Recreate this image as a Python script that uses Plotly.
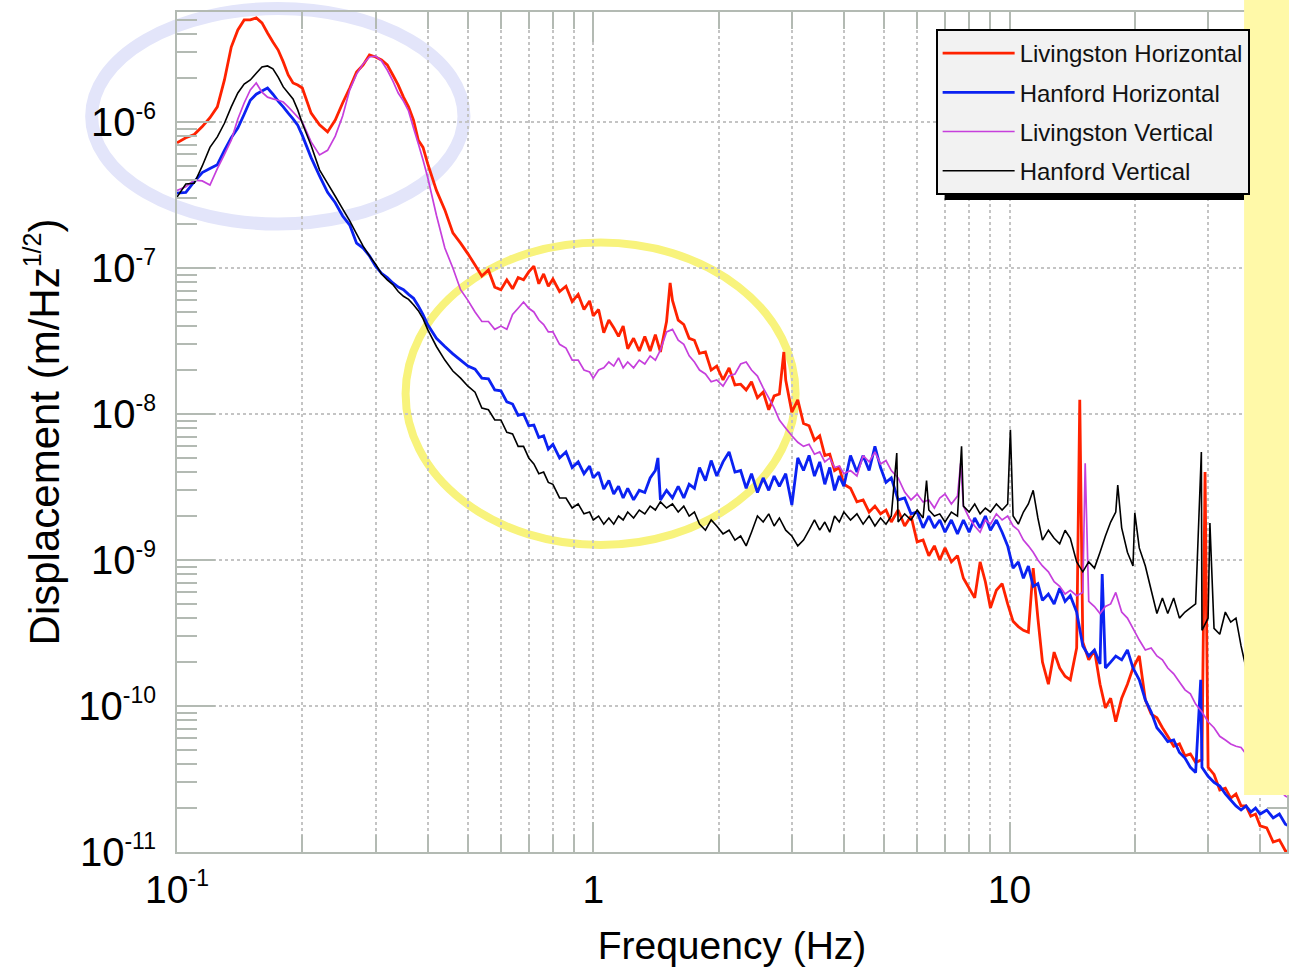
import plotly.graph_objects as go

# ---------------- data ----------------
F_SMOOTH = [0.100, 0.105, 0.110, 0.115, 0.120, 0.125, 0.130, 0.135, 0.140, 0.145,
            0.150, 0.155, 0.160, 0.165, 0.170, 0.175, 0.180, 0.185, 0.190, 0.195,
            0.200, 0.21, 0.22, 0.23, 0.24, 0.25, 0.26, 0.27, 0.28, 0.29,
            0.30, 0.31, 0.32, 0.33, 0.34, 0.35, 0.36, 0.37, 0.38, 0.39,
            0.40, 0.42, 0.44, 0.46, 0.48]

F_NOISY = [0.50, 0.52, 0.54, 0.56, 0.58, 0.60, 0.62, 0.64, 0.66, 0.68,
           0.70, 0.72, 0.74, 0.76, 0.78, 0.80, 0.83, 0.86, 0.89, 0.92,
           0.95, 0.98, 1.0, 1.03, 1.06, 1.09, 1.12, 1.15, 1.18, 1.21,
           1.25, 1.29, 1.33, 1.37, 1.41, 1.45, 1.5, 1.55, 1.6, 1.65,
           1.7, 1.75, 1.8, 1.86, 1.92, 1.98, 2.05, 2.12, 2.19, 2.26,
           2.33, 2.4, 2.48, 2.56, 2.64, 2.72, 2.8, 2.9, 3.0, 3.1,
           3.2, 3.3, 3.4, 3.5, 3.6, 3.7, 3.8, 3.9, 4.0, 4.15,
           4.3, 4.45, 4.6, 4.75, 4.9, 5.05, 5.2, 5.4, 5.6, 5.8,
           6.0, 6.2, 6.4, 6.6, 6.8, 7.0, 7.25, 7.5, 7.75, 8.0,
           8.25, 8.5, 8.75, 9.0, 9.3, 9.6, 9.9, 10.2, 10.5, 10.8,
           11.1, 11.4, 11.7, 12.0, 12.4, 12.8, 13.2, 13.6, 14.0, 14.5,
           15.0, 15.5, 16.0, 16.5, 17.0, 17.5, 18.0, 18.6, 19.2, 19.8,
           20.5, 21.2, 21.9, 22.6, 23.3, 24.0, 24.8, 25.6, 26.4, 27.2,
           28.0, 29.0, 30.0, 31.0, 32.0, 33.0, 34.0, 35.0, 36.0, 37.0,
           38.0, 39.0, 40.0, 41.5, 43.0, 44.5, 46.0, 47.0]

# Livingston Horizontal
LH_SMOOTH = [7.2e-7, 7.8e-7, 8.2e-7, 9.3e-7, 1.07e-6, 1.27e-6, 1.94e-6, 3.26e-6, 4.27e-6, 5.0e-6,
             5.0e-6, 5.16e-6, 4.77e-6, 4.07e-6, 3.53e-6, 3.11e-6, 2.58e-6, 2.10e-6, 1.85e-6, 1.79e-6,
             1.71e-6, 1.15e-6, 9.55e-7, 8.55e-7, 1.03e-6, 1.35e-6, 1.71e-6, 2.2e-6, 2.46e-6, 2.88e-6,
             2.79e-6, 2.66e-6, 2.46e-6, 2.10e-6, 1.79e-6, 1.48e-6, 1.27e-6, 1.03e-6, 7.5e-7, 6.7e-7,
             5.2e-7, 3.4e-7, 2.5e-7, 1.74e-7, 1.48e-7]
LH_NOISY = [1.25e-7, 1.05e-7, 8.8e-8, 9.7e-8, 7.4e-8, 7.1e-8, 8.3e-8, 7.2e-8, 8.6e-8, 8.3e-8,
            9.4e-8, 1.03e-7, 7.8e-8, 9.1e-8, 7.5e-8, 8.4e-8, 6.9e-8, 7.5e-8, 5.9e-8, 6.6e-8,
            5.2e-8, 5.95e-8, 4.7e-8, 5.2e-8, 3.6e-8, 4.4e-8, 3.9e-8, 3.4e-8, 4.0e-8, 2.8e-8,
            3.3e-8, 2.7e-8, 3.4e-8, 2.7e-8, 3.5e-8, 2.66e-8, 4.3e-8, 6.0e-8, 4.4e-8, 4.1e-8,
            3.3e-8, 3.2e-8, 2.6e-8, 2.66e-8, 2.0e-8, 2.13e-8, 1.71e-8, 2.07e-8, 1.58e-8, 1.6e-8,
            1.46e-8, 1.66e-8, 1.29e-8, 1.41e-8, 1.07e-8, 1.33e-8, 1.37e-8, 1.71e-8, 1.03e-8, 1.25e-8,
            8.6e-9, 8.3e-9, 6.6e-9, 7.1e-9, 5.2e-9, 5.3e-9, 4.1e-9, 4.3e-9, 3.3e-9, 3.1e-9,
            2.5e-9, 2.58e-9, 2.13e-9, 2.34e-9, 2.07e-9, 2.2e-9, 1.82e-9, 2.2e-9, 1.71e-9, 2.0e-9,
            1.33e-9, 1.37e-9, 1.07e-9, 1.25e-9, 1.0e-9, 1.21e-9, 9.7e-10, 1.07e-9, 7.5e-10, 6.4e-10,
            5.5e-10, 9.7e-10, 7.1e-10, 4.7e-10, 6.2e-10, 6.9e-10, 5.0e-10, 3.8e-10, 3.5e-10, 3.3e-10,
            3.2e-10, 8.8e-10, 4.0e-10, 2.0e-10, 1.41e-10, 2.34e-10, 1.82e-10, 1.6e-10, 1.51e-10, 2.5e-10,
            2.74e-10, 2.07e-10, 2.42e-10, 1.41e-10, 9.7e-11, 1.13e-10, 7.8e-11, 1.13e-10, 1.41e-10, 1.82e-10,
            2.2e-10, 1.1e-10, 8.8e-11, 8.3e-11, 7.1e-11, 6.2e-11, 5.3e-11, 5.5e-11, 4.55e-11, 4.7e-11,
            4.1e-11, 4.3e-11, 3.8e-11, 3.4e-11, 2.66e-11, 2.74e-11, 2.34e-11, 2.5e-11, 2.07e-11, 2.07e-11,
            1.76e-11, 1.82e-11, 1.51e-11, 1.46e-11, 1.17e-11, 1.21e-11, 1.02e-11, 1.0e-11]
LH_SPIKE_F = [1.53, 2.87, 14.75, 29.5]
LH_SPIKE_V = [7.9e-8, 2.66e-8, 1.25e-8, 4.0e-9]

# Hanford Horizontal
HH_SMOOTH = [3.26e-7, 3.3e-7, 3.9e-7, 4.5e-7, 4.8e-7, 5.1e-7, 6.4e-7, 7.8e-7, 9.1e-7, 1.13e-6,
             1.41e-6, 1.55e-6, 1.63e-6, 1.71e-6, 1.55e-6, 1.39e-6, 1.27e-6, 1.15e-6, 1.05e-6, 9.5e-7,
             8.1e-7, 5.7e-7, 4.27e-7, 3.3e-7, 2.8e-7, 2.27e-7, 1.97e-7, 1.48e-7, 1.37e-7, 1.21e-7,
             1.03e-7, 9.2e-8, 8.6e-8, 7.9e-8, 7.4e-8, 7.1e-8, 6.6e-8, 6.2e-8, 5.5e-8, 4.8e-8,
             4.1e-8, 3.3e-8, 2.9e-8, 2.58e-8, 2.34e-8]
HH_NOISY = [2.13e-8, 2.03e-8, 1.76e-8, 1.74e-8, 1.46e-8, 1.44e-8, 1.21e-8, 1.17e-8, 9.8e-9, 1.0e-8,
            8.3e-9, 8.4e-9, 6.9e-9, 7.1e-9, 5.75e-9, 6.2e-9, 5.0e-9, 5.5e-9, 4.3e-9, 4.7e-9,
            3.9e-9, 4.4e-9, 3.65e-9, 4.0e-9, 3.06e-9, 3.5e-9, 2.83e-9, 3.2e-9, 2.66e-9, 3.1e-9,
            2.58e-9, 3.0e-9, 2.9e-9, 3.65e-9, 4.1e-9, 2.58e-9, 3.0e-9, 2.66e-9, 3.2e-9, 2.66e-9,
            3.3e-9, 3.1e-9, 4.3e-9, 3.5e-9, 4.8e-9, 3.76e-9, 4.7e-9, 5.5e-9, 4.0e-9, 4.1e-9,
            3.1e-9, 3.9e-9, 2.9e-9, 3.65e-9, 3.0e-9, 3.76e-9, 3.2e-9, 3.9e-9, 2.38e-9, 5.0e-9,
            4.1e-9, 5.2e-9, 3.76e-9, 4.7e-9, 3.3e-9, 4.3e-9, 3.0e-9, 3.76e-9, 3.2e-9, 5.2e-9,
            4.0e-9, 5.2e-9, 4.1e-9, 6.0e-9, 4.3e-9, 3.4e-9, 3.65e-9, 2.58e-9, 2.66e-9, 2.07e-9,
            2.13e-9, 1.66e-9, 2.0e-9, 1.66e-9, 1.88e-9, 1.55e-9, 1.88e-9, 1.51e-9, 1.88e-9, 1.55e-9,
            1.94e-9, 1.66e-9, 2.0e-9, 1.6e-9, 1.88e-9, 1.55e-9, 1.25e-9, 8.8e-10, 9.7e-10, 7.5e-10,
            9.1e-10, 6.6e-10, 6.9e-10, 5.3e-10, 5.85e-10, 5.0e-10, 6.4e-10, 5.2e-10, 5.7e-10, 4.4e-10,
            2.58e-10, 2.2e-10, 2.42e-10, 1.94e-10, 1.82e-10, 2.0e-10, 2.2e-10, 2.07e-10, 2.42e-10, 1.82e-10,
            1.51e-10, 1.1e-10, 9.1e-11, 7.1e-11, 6.4e-11, 5.7e-11, 5.85e-11, 4.8e-11, 4.4e-11, 3.8e-11,
            3.5e-11, 3.8e-11, 3.3e-11, 3.0e-11, 2.83e-11, 2.5e-11, 2.27e-11, 2.07e-11, 1.94e-11, 2.07e-11,
            1.88e-11, 2.0e-11, 1.82e-11, 1.94e-11, 1.71e-11, 1.82e-11, 1.55e-11, 1.51e-11]
HH_SPIKE_F = [1.43, 16.7, 28.8]
HH_SPIKE_V = [5.0e-9, 8.0e-10, 1.51e-10]

# Livingston Vertical
LV_SMOOTH = [3.4e-7, 3.6e-7, 4.0e-7, 3.95e-7, 3.7e-7, 4.8e-7, 6.0e-7, 7.5e-7, 1.05e-6, 1.35e-6,
             1.66e-6, 1.85e-6, 1.6e-6, 1.48e-6, 1.44e-6, 1.41e-6, 1.37e-6, 1.27e-6, 1.17e-6, 1.08e-6,
             1.0e-6, 7.3e-7, 5.95e-7, 6.4e-7, 8.0e-7, 1.1e-6, 1.66e-6, 2.13e-6, 2.5e-6, 2.79e-6,
             2.83e-6, 2.62e-6, 2.27e-6, 1.91e-6, 1.58e-6, 1.39e-6, 1.19e-6, 9.1e-7, 7.1e-7, 5.5e-7,
             4.2e-7, 2.3e-7, 1.37e-7, 1.0e-7, 7.1e-8]
LV_NOISY = [6.0e-8, 5.0e-8, 4.3e-8, 4.3e-8, 3.8e-8, 4.0e-8, 3.8e-8, 4.8e-8, 5.3e-8, 5.85e-8,
            5.3e-8, 5.0e-8, 4.4e-8, 4.1e-8, 3.65e-8, 3.65e-8, 3.0e-8, 2.83e-8, 2.34e-8, 2.34e-8,
            2.0e-8, 1.94e-8, 1.76e-8, 2.0e-8, 2.07e-8, 2.27e-8, 2.13e-8, 2.42e-8, 2.07e-8, 2.27e-8,
            2.07e-8, 2.34e-8, 2.2e-8, 2.5e-8, 2.34e-8, 2.74e-8, 3.65e-8, 3.8e-8, 3.2e-8, 3.0e-8,
            2.5e-8, 2.27e-8, 2.0e-8, 1.88e-8, 1.66e-8, 1.71e-8, 1.55e-8, 1.82e-8, 1.88e-8, 2.2e-8,
            2.27e-8, 2.0e-8, 1.82e-8, 1.51e-8, 1.29e-8, 1.1e-8, 9.1e-9, 8.0e-9, 7.1e-9, 6.4e-9,
            6.0e-9, 6.2e-9, 5.3e-9, 5.5e-9, 4.7e-9, 5.0e-9, 4.3e-9, 4.4e-9, 3.9e-9, 4.1e-9,
            3.76e-9, 5.2e-9, 4.7e-9, 5.5e-9, 4.55e-9, 4.8e-9, 4.1e-9, 3.65e-9, 2.92e-9, 2.58e-9,
            2.83e-9, 2.5e-9, 2.58e-9, 2.27e-9, 2.66e-9, 2.83e-9, 2.42e-9, 2.74e-9, 2.34e-9, 1.94e-9,
            1.71e-9, 1.55e-9, 1.88e-9, 1.76e-9, 2.07e-9, 1.88e-9, 2.0e-9, 1.71e-9, 1.6e-9, 1.37e-9,
            1.25e-9, 1.13e-9, 1.0e-9, 9.1e-10, 8.3e-10, 7.1e-10, 6.6e-10, 5.85e-10, 6.2e-10, 5.7e-10,
            6.0e-10, 5.2e-10, 4.8e-10, 4.3e-10, 4.8e-10, 5.0e-10, 6.0e-10, 4.4e-10, 4.0e-10, 3.4e-10,
            2.83e-10, 2.42e-10, 2.5e-10, 2.2e-10, 2.07e-10, 1.82e-10, 1.66e-10, 1.46e-10, 1.29e-10, 1.21e-10,
            1.03e-10, 9.1e-11, 7.8e-11, 7.1e-11, 6.2e-11, 5.85e-11, 5.5e-11, 5.3e-11, 5.2e-11, 4.7e-11,
            4.1e-11, 3.8e-11, 3.5e-11, 3.1e-11, 2.83e-11, 2.66e-11, 2.42e-11, 2.34e-11]
LV_SPIKE_F = [7.63, 15.2]
LV_SPIKE_V = [4.6e-9, 4.6e-9]

# Hanford Vertical
HV_SMOOTH = [3.06e-7, 3.76e-7, 3.8e-7, 5.0e-7, 6.7e-7, 7.9e-7, 9.8e-7, 1.27e-6, 1.58e-6, 1.82e-6,
             1.94e-6, 2.16e-6, 2.38e-6, 2.42e-6, 2.31e-6, 2.03e-6, 1.74e-6, 1.58e-6, 1.44e-6, 1.21e-6,
             9.8e-7, 6.9e-7, 4.7e-7, 3.8e-7, 3.1e-7, 2.54e-7, 2.1e-7, 1.71e-7, 1.41e-7, 1.21e-7,
             1.06e-7, 9.1e-8, 8.3e-8, 7.7e-8, 6.9e-8, 6.4e-8, 6.1e-8, 5.6e-8, 5.1e-8, 4.5e-8,
             3.8e-8, 2.9e-8, 2.34e-8, 1.97e-8, 1.76e-8]
HV_NOISY = [1.55e-8, 1.41e-8, 1.1e-8, 1.07e-8, 9.1e-9, 9.1e-9, 7.5e-9, 7.3e-9, 6.0e-9, 6.0e-9,
            5.0e-9, 4.55e-9, 3.9e-9, 4.0e-9, 3.4e-9, 3.3e-9, 2.66e-9, 2.66e-9, 2.27e-9, 2.42e-9,
            2.07e-9, 2.13e-9, 1.88e-9, 2.0e-9, 1.76e-9, 1.94e-9, 1.76e-9, 2.0e-9, 1.88e-9, 2.13e-9,
            1.94e-9, 2.2e-9, 2.07e-9, 2.34e-9, 2.2e-9, 2.5e-9, 2.27e-9, 2.42e-9, 2.13e-9, 2.34e-9,
            2.0e-9, 2.13e-9, 1.76e-9, 1.6e-9, 1.88e-9, 1.71e-9, 1.51e-9, 1.6e-9, 1.37e-9, 1.46e-9,
            1.25e-9, 1.55e-9, 2.0e-9, 1.82e-9, 2.07e-9, 1.71e-9, 1.94e-9, 1.6e-9, 1.46e-9, 1.25e-9,
            1.37e-9, 1.6e-9, 1.88e-9, 1.6e-9, 1.82e-9, 1.55e-9, 2.0e-9, 1.82e-9, 2.13e-9, 1.88e-9,
            2.07e-9, 1.76e-9, 2.0e-9, 1.71e-9, 1.94e-9, 1.76e-9, 2.0e-9, 1.82e-9, 2.07e-9, 1.88e-9,
            2.2e-9, 1.94e-9, 2.2e-9, 2.0e-9, 2.07e-9, 1.82e-9, 2.13e-9, 2.0e-9, 2.34e-9, 2.13e-9,
            2.42e-9, 2.07e-9, 2.27e-9, 2.13e-9, 2.42e-9, 2.2e-9, 2.42e-9, 2.0e-9, 1.76e-9, 2.13e-9,
            2.42e-9, 3.0e-9, 1.94e-9, 1.37e-9, 1.6e-9, 1.41e-9, 1.29e-9, 1.6e-9, 1.41e-9, 9.7e-10,
            8.3e-10, 9.7e-10, 8.8e-10, 1.13e-9, 1.46e-9, 1.82e-9, 2.13e-9, 1.66e-9, 1.13e-9, 9.1e-10,
            1.21e-9, 9.1e-10, 6.2e-10, 4.3e-10, 5.5e-10, 4.3e-10, 5.5e-10, 4.0e-10, 4.4e-10, 4.7e-10,
            5.0e-10, 3.3e-10, 4.0e-10, 3.4e-10, 3.1e-10, 4.4e-10, 3.76e-10, 4.0e-10, 2.58e-10, 1.82e-10,
            2.07e-10, 2.42e-10, 2.24e-10, 2.42e-10, 2.07e-10, 2.24e-10, 2.07e-10, 2.0e-10]
HV_SPIKE_F = [5.36, 6.32, 7.67, 10.05, 18.2, 20.0, 28.9, 30.3]
HV_SPIKE_V = [5.4e-9, 3.5e-9, 6.0e-9, 7.8e-9, 3.26e-9, 2.1e-9, 5.5e-9, 1.79e-9]

SERIES_NAMES = ["Livingston Horizontal", "Hanford Horizontal", "Livingston Vertical", "Hanford Vertical"]

SUP = "<sup><span style='font-size:23px'>%s</span></sup>"
X_TICKVALS = [0.1, 1, 10]
X_TICKTEXT = ["10" + SUP % "-1", "1", "10"]
Y_TICKVALS = [1e-11, 1e-10, 1e-9, 1e-8, 1e-7, 1e-6]
Y_TICKTEXT = ["10" + SUP % s for s in ["-11", "-10", "-9", "-8", "-7", "-6"]]
X_MINOR = [m * d for d in (0.1, 1, 10) for m in range(2, 10)]
Y_MINOR = [m * d for d in (1e-11, 1e-10, 1e-9, 1e-8, 1e-7, 1e-6) for m in range(2, 10)]


def build(smooth, noisy, sf, sv):
    assert len(smooth) == len(F_SMOOTH), (len(smooth), len(F_SMOOTH))
    assert len(noisy) == len(F_NOISY), (len(noisy), len(F_NOISY))
    pts = list(zip(F_SMOOTH, smooth)) + list(zip(F_NOISY, noisy)) + list(zip(sf, sv))
    pts.sort(key=lambda p: p[0])
    return [p[0] for p in pts], [p[1] for p in pts]


FONT = "Arial, 'Liberation Sans', sans-serif"
AXC = "#b3bab3"
GRIDC = "#c4c4c4"

styles = [
    ("#ff2200", 2.8, LH_SMOOTH, LH_NOISY, LH_SPIKE_F, LH_SPIKE_V),
    ("#0b22f2", 2.8, HH_SMOOTH, HH_NOISY, HH_SPIKE_F, HH_SPIKE_V),
    ("#c63fdc", 1.7, LV_SMOOTH, LV_NOISY, LV_SPIKE_F, LV_SPIKE_V),
    ("#000000", 1.6, HV_SMOOTH, HV_NOISY, HV_SPIKE_F, HV_SPIKE_V),
]

fig = go.Figure()
for name, (color, width, sm, no, sf, sv) in zip(SERIES_NAMES, styles):
    x, y = build(sm, no, sf, sv)
    fig.add_trace(go.Scatter(x=x, y=y, mode="lines", name=name, legendgroup=name,
                             line=dict(color=color, width=width, simplify=False)))

W, H = 1289, 967
L, R, T, B = 177, 0, 12, 115
pw, ph = W - L - R, H - T - B


def px(xp):
    return (xp - L) / pw


def py(yp):
    return (H - B - yp) / ph


fig.update_layout(
    width=W, height=H, autosize=False,
    margin=dict(l=L, r=R, t=T, b=B, pad=0),
    paper_bgcolor="white", plot_bgcolor="rgba(0,0,0,0)",
    font=dict(family=FONT, color="black"),
    showlegend=True,
    legend=dict(x=px(937), y=py(29), xanchor="left", yanchor="top",
                bgcolor="#f2f2f2", bordercolor="black", borderwidth=2,
                font=dict(size=24, family=FONT, color="#111111"),
                itemwidth=72, traceorder="grouped", tracegroupgap=5),
    xaxis=dict(type="log", range=[-1, 1 + (W - 1011) / 417.0],
               tickmode="array", tickvals=X_TICKVALS, ticktext=X_TICKTEXT,
               ticks="inside", ticklen=30, tickwidth=2, tickcolor=AXC,
               showline=True, linecolor=AXC, linewidth=2, mirror="allticks",
               showgrid=True, gridcolor=GRIDC, gridwidth=1.5, griddash="dot",
               zeroline=False, ticklabelstandoff=2,
               tickfont=dict(size=39, family=FONT, color="black"),
               minor=dict(tickmode="array", tickvals=X_MINOR, ticks="inside", ticklen=17,
                          tickwidth=2, tickcolor=AXC, showgrid=True,
                          gridcolor=GRIDC, gridwidth=1.5, griddash="dot"),
               title=dict(text="Frequency (Hz)", font=dict(size=39, family=FONT, color="black"),
                          standoff=26)),
    yaxis=dict(type="log", range=[-11, -6 + (122 - 12) / 146.0],
               tickmode="array", tickvals=Y_TICKVALS, ticktext=Y_TICKTEXT,
               ticks="inside", ticklen=38, tickwidth=2, tickcolor=AXC,
               showline=True, linecolor=AXC, linewidth=2, mirror="allticks",
               showgrid=True, gridcolor=GRIDC, gridwidth=1.5, griddash="dot",
               zeroline=False, ticklabelstandoff=11,
               tickfont=dict(size=40, family=FONT, color="black"),
               minor=dict(tickmode="array", tickvals=Y_MINOR, ticks="inside", ticklen=20,
                          tickwidth=2, tickcolor=AXC, showgrid=False),
               title=dict(text="Displacement (m/Hz<sup><span style='font-size:25px'>1/2</span></sup>)",
                          font=dict(size=42, family=FONT, color="black"), standoff=6)),
    shapes=[
        # lavender ellipse
        dict(type="circle", xref="paper", yref="paper", layer="below",
             x0=px(91.5), x1=px(464.5), y0=py(224), y1=py(8.5),
             line=dict(color="#e3e5fa", width=13)),
        # yellow ellipse
        dict(type="circle", xref="paper", yref="paper", layer="below",
             x0=px(406), x1=px(796.7), y0=py(545), y1=py(242.5),
             line=dict(color="#f8f37c", width=8)),
        # legend shadow
        dict(type="rect", xref="paper", yref="paper", layer="above",
             x0=px(946), x1=px(1246), y0=py(200), y1=py(186),
             fillcolor="black", line=dict(width=0)),
        # yellow panel on the right
        dict(type="rect", xref="paper", yref="paper", layer="above",
             x0=px(1246), x1=px(1300), y0=py(795), y1=py(-5),
             fillcolor="#fff9a8", line=dict(width=0)),
    ],
)

fig.write_html("out.html")
